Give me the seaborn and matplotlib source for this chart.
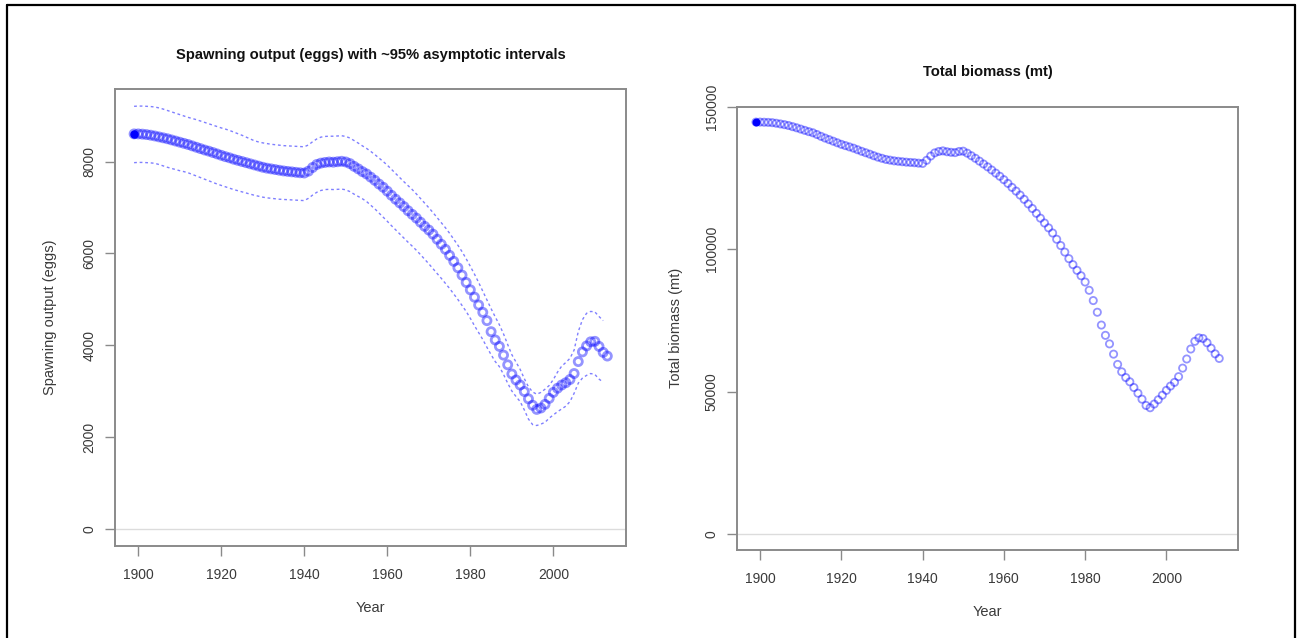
import matplotlib
matplotlib.use("Agg")
import matplotlib.pyplot as plt
from matplotlib.lines import Line2D
import seaborn as sns
import pandas as pd

# ---------------- data ----------------
start_year = 1899
ssb = [8600, 8600, 8595, 8585, 8572, 8555, 8535, 8515, 8495, 8470,
       8445, 8420, 8395, 8370, 8340, 8310, 8280, 8250, 8225, 8195,
       8165, 8135, 8105, 8080, 8050, 8025, 8000, 7975, 7950, 7925,
       7900, 7875, 7855, 7840, 7825, 7810, 7795, 7785, 7775, 7765,
       7755, 7750, 7790, 7870, 7935, 7965, 7980, 7990, 7985, 7995,
       8005, 7990, 7955, 7895, 7840, 7780, 7730, 7660, 7590, 7510,
       7440, 7355, 7265, 7180, 7100, 7020, 6930, 6850, 6770, 6680,
       6590, 6510, 6420, 6310, 6200, 6090, 5960, 5830, 5690, 5530,
       5370, 5210, 5050, 4880, 4720, 4540, 4300, 4120, 3980, 3790,
       3580, 3380, 3250, 3140, 3000, 2840, 2700, 2610, 2640, 2720,
       2850, 2980, 3070, 3140, 3190, 3260, 3390, 3650, 3860, 3990,
       4080, 4090, 3980, 3850, 3770]
ssb_upper = [9200, 9205, 9205, 9200, 9195, 9185, 9165, 9140, 9110, 9080,
             9050, 9020, 8990, 8960, 8935, 8910, 8880, 8850, 8820, 8790,
             8760, 8730, 8705, 8675, 8640, 8605, 8570, 8530, 8490, 8450,
             8425, 8405, 8390, 8375, 8365, 8355, 8345, 8340, 8335, 8330,
             8325, 8320, 8360, 8430, 8490, 8530, 8545, 8550, 8550, 8555,
             8560, 8545, 8510, 8455, 8400, 8340, 8285, 8220, 8150, 8075,
             8000, 7920, 7830, 7740, 7650, 7560, 7475, 7390, 7295, 7195,
             7095, 6995, 6890, 6780, 6670, 6560, 6440, 6310, 6180, 6040,
             5885, 5720, 5550, 5370, 5180, 4990, 4800, 4620, 4450, 4250,
             4020, 3800, 3640, 3480, 3280, 3100, 2990, 2940, 2980, 3050,
             3130, 3260, 3420, 3550, 3630, 3720, 3900, 4300, 4560, 4700,
             4740, 4730, 4630, 4540]
ssb_lower = [7975, 7980, 7980, 7975, 7970, 7960, 7935, 7905, 7875, 7850,
             7825, 7800, 7780, 7755, 7720, 7685, 7650, 7615, 7580, 7545,
             7510, 7480, 7450, 7420, 7390, 7365, 7340, 7315, 7290, 7265,
             7245, 7225, 7210, 7200, 7190, 7180, 7175, 7170, 7165, 7160,
             7155, 7150, 7200, 7270, 7330, 7370, 7390, 7395, 7390, 7395,
             7400, 7385, 7345, 7290, 7240, 7190, 7130, 7050, 6970, 6880,
             6790, 6700, 6605, 6515, 6425, 6335, 6245, 6160, 6070, 5975,
             5875, 5775, 5670, 5565, 5460, 5350, 5240, 5120, 5000, 4870,
             4740, 4590, 4430, 4280, 4130, 3960, 3800, 3650, 3540, 3370,
             3180, 3010, 2890, 2780, 2600, 2400, 2280, 2260, 2290, 2330,
             2420, 2490, 2560, 2620, 2680, 2780, 2960, 3180, 3290, 3350,
             3390, 3370, 3270, 3200]
biomass = [144600, 144600, 144550, 144500, 144400, 144200, 143950, 143700, 143400, 143000,
           142600, 142150, 141700, 141250, 140850, 140250, 139600, 139000, 138450, 137900,
           137350, 136800, 136350, 135900, 135450, 134900, 134350, 133850, 133350, 132800,
           132300, 131900, 131500, 131250, 131000, 130850, 130700, 130550, 130450, 130350,
           130200, 130100, 131200, 132700, 133800, 134300, 134500, 134200, 134000, 133900,
           134300, 134400, 133700, 132800, 131900, 130900, 129900, 128900, 127800, 126700,
           125600, 124400, 123100, 121700, 120400, 119000, 117500, 115900, 114300, 112600,
           110900, 109200, 107500, 105700, 103500, 101300, 99000, 96700, 94600, 92600,
           90700, 88500, 85600, 82000, 77900, 73400, 69800, 66800, 63200, 59600,
           57000, 55000, 53500, 51500, 49500, 47400, 45200, 44400, 45700, 47200,
           48800, 50500, 52000, 53300, 55300, 58300, 61500, 65000, 67700, 68900,
           68700, 67200, 65300, 63300, 61700]

x_ticks = [1900, 1920, 1940, 1960, 1980, 2000]
ssb_ticks = [0, 2000, 4000, 6000, 8000]
bio_ticks = [0, 50000, 100000, 150000]

title_left = "Spawning output (eggs) with ~95% asymptotic intervals"
title_right = "Total biomass (mt)"
ylab_left = "Spawning output (eggs)"
ylab_right = "Total biomass (mt)"
xlab = "Year"

# ---------------- tables ----------------
n_est = min(len(ssb), len(biomass))
years = list(range(start_year, start_year + n_est))
df_est = pd.DataFrame({"Year": years, "ssb": ssb[:n_est], "bio": biomass[:n_est]})
n_ci = min(len(ssb_upper), len(ssb_lower))
df_ci = pd.DataFrame({"Year": list(range(start_year, start_year + n_ci)),
                      "upper": ssb_upper[:n_ci], "lower": ssb_lower[:n_ci]})

# ---------------- style ----------------
sns.set_style("white")
plt.rcParams["font.family"] = ["Liberation Sans", "DejaVu Sans"]

W, H = 1299, 638
fig = plt.figure(figsize=(W / 100, H / 100), dpi=100)
fig.patch.set_facecolor("white")

L1 = (115, 626, 89.3, 546)      # left, right, top, bottom (pixels)
L2 = (737.3, 1237.5, 106.7, 550)
ax1 = fig.add_axes([L1[0] / W, 1 - L1[3] / H, (L1[1] - L1[0]) / W, (L1[3] - L1[2]) / H])
ax2 = fig.add_axes([L2[0] / W, 1 - L2[3] / H, (L2[1] - L2[0]) / W, (L2[3] - L2[2]) / H])

blue_pt = (0.0, 0.0, 1.0, 0.42)
blue_ci = (0.0, 0.0, 1.0, 0.5)
frame_col = "#8a8a8a"
text_col = "#3a3a3a"

# left panel
ax1.axhline(0, color="#dcdcdc", lw=1.0, zorder=1)
sns.lineplot(data=df_ci, x="Year", y="upper", ax=ax1, color=blue_ci, lw=1.0,
             linestyle=(0, (2.0, 2.0)), zorder=2)
sns.lineplot(data=df_ci, x="Year", y="lower", ax=ax1, color=blue_ci, lw=1.0,
             linestyle=(0, (2.0, 2.0)), zorder=2)
sns.scatterplot(data=df_est, x="Year", y="ssb", ax=ax1, marker="o", s=34,
                facecolor="none", edgecolor=blue_pt, linewidth=2.0, zorder=3)
sns.scatterplot(data=df_est.iloc[:1], x="Year", y="ssb", ax=ax1, marker="o", s=26,
                color="blue", edgecolor="blue", linewidth=1.0, zorder=4)

# right panel
ax2.axhline(0, color="#dcdcdc", lw=1.0, zorder=1)
sns.scatterplot(data=df_est, x="Year", y="bio", ax=ax2, marker="o", s=27,
                facecolor="none", edgecolor=blue_pt, linewidth=1.3, zorder=3)
sns.scatterplot(data=df_est.iloc[:1], x="Year", y="bio", ax=ax2, marker="o", s=22,
                color="blue", edgecolor="blue", linewidth=1.0, zorder=4)

ax1.set_xlim(1894.4, 2017.5)
ax1.set_ylim(-360, 9570)
ax2.set_xlim(1894.4, 2017.5)
ax2.set_ylim(-5500, 150000)

for ax, yt in ((ax1, ssb_ticks), (ax2, bio_ticks)):
    ax.set_xticks(x_ticks)
    ax.set_xticklabels([str(v) for v in x_ticks])
    ax.set_yticks(yt)
    ax.set_yticklabels([str(v) for v in yt], rotation=90, va="center")
    ax.tick_params(axis="both", direction="out", length=7, width=1.0,
                   color=frame_col, labelcolor=text_col, labelsize=10)
    ax.tick_params(axis="x", pad=9)
    ax.tick_params(axis="y", pad=6.5)
    ax.tick_params(left=True, bottom=True)
    for sp in ax.spines.values():
        sp.set_visible(True)
        sp.set_color(frame_col)
        sp.set_linewidth(1.4)
    ax.set_xlabel("")
    ax.set_ylabel("")

# titles and axis labels
fig.text((L1[0] + L1[1]) / 2 / W, 1 - 55 / H, title_left, ha="center", va="center",
         fontsize=10.6, fontweight="bold", color="#111111")
fig.text((L2[0] + L2[1]) / 2 / W, 1 - 72 / H, title_right, ha="center", va="center",
         fontsize=10.6, fontweight="bold", color="#111111")
fig.text((L1[0] + L1[1]) / 2 / W, 1 - 608 / H, xlab, ha="center", va="center",
         fontsize=10.5, color=text_col)
fig.text((L2[0] + L2[1]) / 2 / W, 1 - 612 / H, xlab, ha="center", va="center",
         fontsize=10.5, color=text_col)
fig.text(50 / W, 1 - (L1[2] + L1[3]) / 2 / H, ylab_left, ha="center", va="center",
         rotation=90, fontsize=10.5, color=text_col)
fig.text(676 / W, 1 - (L2[2] + L2[3]) / 2 / H, ylab_right, ha="center", va="center",
         rotation=90, fontsize=10.5, color=text_col)

# outer frame (left, top, right edges)
for (x0, y0, x1, y1) in ((6.5, 638, 6.5, 4.5), (6.5, 4.5, 1294.5, 4.5),
                         (1294.5, 4.5, 1294.5, 638)):
    fig.add_artist(Line2D([x0 / W, x1 / W], [1 - y0 / H, 1 - y1 / H],
                          transform=fig.transFigure, color="black", lw=1.6))

fig.savefig("out.png", dpi=100, facecolor="white")
